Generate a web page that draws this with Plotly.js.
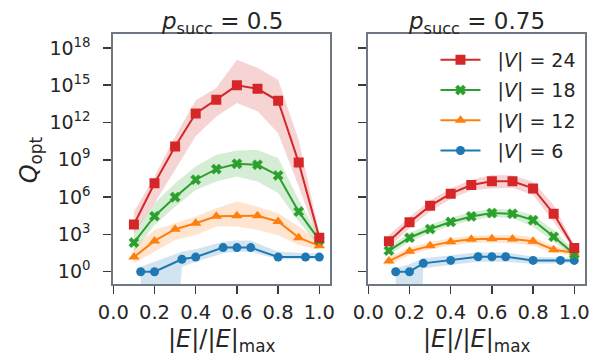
<!DOCTYPE html>
<html>
<head>
<meta charset="utf-8">
<script src="https://cdn.plot.ly/plotly-3.0.1.min.js"></script>
<style>
  html, body { margin: 0; padding: 0; background: #fff; }
  #chart { width: 604px; height: 363px; }
</style>
</head>
<body>
<div id="chart"></div>
<script>
// ---------- data ----------
const panelTitles = ["<i>p</i><sub>succ</sub> = 0.5", "<i>p</i><sub>succ</sub> = 0.75"];
const seriesNames = ["|<i>V</i>| = 6", "|<i>V</i>| = 12", "|<i>V</i>| = 18", "|<i>V</i>| = 24"];
const seriesColors = ["#1f77b4", "#ff7f0e", "#2ca02c", "#d62728"];
const bandColors = ["rgba(31,119,180,0.2)", "rgba(255,127,14,0.2)", "rgba(44,160,44,0.2)", "rgba(214,39,40,0.2)"];
const seriesSymbols = ["circle", "triangle-up", "x", "square"];

const xTickVals = [0, 0.2, 0.4, 0.6, 0.8, 1.0];
const yTickVals = [1, 1e3, 1e6, 1e9, 1e12, 1e15, 1e18];
const yTickText = ["10<sup>0</sup>", "10<sup>3</sup>", "10<sup>6</sup>", "10<sup>9</sup>", "10<sup>12</sup>", "10<sup>15</sup>", "10<sup>18</sup>"];

// x positions (|E|/|E|max)
const xBig = [0.1, 0.2, 0.3, 0.4, 0.5, 0.6, 0.7, 0.8, 0.9, 1.0];
const xV6a = [0.133, 0.2, 0.333, 0.4, 0.533, 0.6, 0.667, 0.8, 0.933, 1.0];
const xV6b = [0.133, 0.2, 0.267, 0.4, 0.533, 0.6, 0.667, 0.8, 0.933, 1.0];

// p_succ = 0.5
const a6mean  = [1, 1, 10, 15, 87, 87, 87, 15, 15, 15];
const a6upper = [2.5, 6.3, 40, 63, 260, 320, 320, 40, 30, 30];
const a6lower = [1e-30, 1e-30, 2.5, 6.3, 30, 40, 40, 10, 10, 10];

const a12mean  = [15, 300, 2.6e3, 7.9e3, 2.9e4, 3.2e4, 3.2e4, 1.1e4, 550, 120];
const a12upper = [100, 2.3e3, 7.9e3, 2.7e4, 1.3e5, 4.4e5, 1.7e5, 5.0e4, 4.3e3, 260];
const a12lower = [4.7, 40, 350, 910, 4.3e3, 4.3e3, 2.3e3, 910, 140, 56];

const a18mean  = [220, 2.9e4, 1.0e6, 2.5e7, 1.8e8, 4.8e8, 4.0e8, 5.5e7, 6.8e4, 350];
const a18upper = [1.7e3, 3.2e5, 1.3e7, 2.9e8, 2.5e9, 5.6e9, 6.3e9, 1.4e9, 6.0e5, 660];
const a18lower = [40, 5.8e3, 1.7e5, 3.8e6, 1.8e7, 4.5e7, 1.8e7, 2.1e6, 1.1e4, 100];

const a24mean  = [6.2e3, 1.3e7, 1.2e10, 5.4e12, 6.9e13, 9.8e14, 5.2e14, 5.6e13, 6.0e8, 550];
const a24upper = [6.8e4, 4.5e7, 7.6e10, 6.3e13, 6.0e14, 1.1e17, 2.5e16, 2.8e15, 4.0e10, 1.3e3];
const a24lower = [1.3e3, 3.2e5, 1.6e8, 7.9e10, 3.1e12, 3.7e13, 7.9e12, 1.4e11, 7.1e6, 200];

// p_succ = 0.75
const b6mean  = [1, 1, 4.7, 8.1, 16, 16, 16, 8.1, 8.1, 8.1];
const b6upper = [1.9, 4.0, 12, 19.5, 36, 36, 36, 16, 12.6, 12.6];
const b6lower = [1e-30, 1e-30, 1.9, 3.5, 6.3, 6.3, 6.3, 4.4, 5, 5];

const b12mean  = [7.2, 44, 120, 260, 400, 450, 430, 280, 59, 34];
const b12upper = [14, 89, 250, 500, 790, 890, 890, 630, 110, 50];
const b12lower = [3.5, 22, 63, 130, 200, 220, 200, 130, 32, 22];

const b18mean  = [49, 540, 2.7e3, 1.0e4, 2.8e4, 5.2e4, 4.6e4, 1.4e4, 650, 26];
const b18upper = [110, 1.3e3, 6.3e3, 2.2e4, 6.3e4, 1.1e5, 1.0e5, 3.6e4, 2.2e3, 50];
const b18lower = [22, 250, 1.3e3, 5.0e3, 1.3e4, 2.5e4, 2.0e4, 4.2e3, 260, 16];

const b24mean  = [280, 9.3e3, 2.0e5, 1.9e6, 9.3e6, 1.9e7, 1.9e7, 5.0e6, 4.6e4, 79];
const b24upper = [890, 2.5e4, 5.6e5, 5.0e6, 2.5e7, 5.9e7, 5.6e7, 1.7e7, 2.3e5, 140];
const b24lower = [91, 3.2e3, 7.1e4, 7.1e5, 3.5e6, 5.0e6, 5.6e6, 1.5e6, 1.0e4, 55];

const panels = [
  { xa: "x",  ya: "y",  xs: [xV6a, xBig, xBig, xBig],
    mean: [a6mean, a12mean, a18mean, a24mean],
    upper: [a6upper, a12upper, a18upper, a24upper],
    lower: [a6lower, a12lower, a18lower, a24lower] },
  { xa: "x2", ya: "y2", xs: [xV6b, xBig, xBig, xBig],
    mean: [b6mean, b12mean, b18mean, b24mean],
    upper: [b6upper, b12upper, b18upper, b24upper],
    lower: [b6lower, b12lower, b18lower, b24lower] }
];

// ---------- traces ----------
const traces = [];
panels.forEach((p) => {
  for (let s = 0; s < 4; s++) {
    traces.push({ x: p.xs[s], y: p.lower[s], xaxis: p.xa, yaxis: p.ya, mode: "lines",
      line: { width: 0, color: bandColors[s] }, showlegend: false, hoverinfo: "skip" });
    traces.push({ x: p.xs[s], y: p.upper[s], xaxis: p.xa, yaxis: p.ya, mode: "lines",
      line: { width: 0, color: bandColors[s] }, fill: "tonexty", fillcolor: bandColors[s],
      showlegend: false, hoverinfo: "skip" });
  }
});
panels.forEach((p, pi) => {
  for (let s = 0; s < 4; s++) {
    const sym = seriesSymbols[s];
    traces.push({ x: p.xs[s], y: p.mean[s], xaxis: p.xa, yaxis: p.ya, mode: "lines+markers",
      name: "&nbsp;&nbsp;" + seriesNames[s], legendgroup: "g" + s, legendrank: 4 - s,
      showlegend: pi === 0,
      line: { color: seriesColors[s], width: 2 },
      marker: { color: seriesColors[s], symbol: sym,
        size: sym === "square" ? 10 : (sym === "triangle-up" ? 10 : 9),
        line: { width: sym === "x" ? 0.5 : 0, color: seriesColors[s] } } });
  }
});

// ---------- layout ----------
const textColor = "#262626";
const frameColor = "#6f7782";
const tickColor = "#3a3a3a";
const fontFam = "DejaVu Sans, sans-serif";

function xAxis(domain, anchor) {
  return { domain: domain, anchor: anchor, range: [0, 1.052], tickmode: "array",
    tickvals: xTickVals, tickformat: ".1f", ticks: "outside", ticklen: 8, tickwidth: 1.5,
    tickcolor: tickColor, showline: true, linecolor: frameColor, linewidth: 2, mirror: true,
    showgrid: false, zeroline: false, tickfont: { size: 19.5, color: textColor, family: fontFam },
    ticklabelstandoff: 2 };
}
function yAxis(anchor, showLabels) {
  return { domain: [0.2176, 0.9063], anchor: anchor, type: "log", range: [-0.99, 19.12],
    tickmode: "array", tickvals: yTickVals, ticktext: yTickText, showticklabels: showLabels,
    ticks: "outside", ticklen: 8, tickwidth: 1.5, tickcolor: tickColor, showline: true,
    linecolor: frameColor, linewidth: 2, mirror: true, showgrid: false, zeroline: false,
    tickfont: { size: 19, color: textColor, family: fontFam }, ticklabelstandoff: 9 };
}

const layout = {
  width: 604, height: 363,
  margin: { l: 0, r: 0, t: 0, b: 0 },
  paper_bgcolor: "#ffffff", plot_bgcolor: "#ffffff",
  font: { family: fontFam, color: textColor, size: 19 },
  xaxis: xAxis([0.1876, 0.5464], "y"),
  yaxis: yAxis("x", true),
  xaxis2: xAxis([0.6098, 0.9685], "y2"),
  yaxis2: yAxis("x2", false),
  showlegend: true,
  legend: { x: 0.721, y: 0.887, xanchor: "left", yanchor: "top", bgcolor: "rgba(0,0,0,0)",
    borderwidth: 0, traceorder: "grouped", tracegroupgap: 2.5, itemwidth: 40,
    font: { size: 19, color: textColor, family: fontFam } },
  annotations: [
    { text: panelTitles[0], xref: "paper", yref: "paper", x: 0.367, y: 0.938, xanchor: "center",
      yanchor: "middle", showarrow: false, font: { size: 23, color: textColor } },
    { text: panelTitles[1], xref: "paper", yref: "paper", x: 0.789, y: 0.938, xanchor: "center",
      yanchor: "middle", showarrow: false, font: { size: 23, color: textColor } },
    { text: "|<i>E</i>|/|<i>E</i>|<sub>max</sub>", xref: "paper", yref: "paper", x: 0.367, y: 0.063,
      xanchor: "center", yanchor: "middle", showarrow: false, font: { size: 24, color: textColor } },
    { text: "|<i>E</i>|/|<i>E</i>|<sub>max</sub>", xref: "paper", yref: "paper", x: 0.789, y: 0.063,
      xanchor: "center", yanchor: "middle", showarrow: false, font: { size: 24, color: textColor } },
    { text: "<i>Q</i><sub>opt</sub>", xref: "paper", yref: "paper", x: 0.05, y: 0.559,
      xanchor: "center", yanchor: "middle", textangle: -90, showarrow: false,
      font: { size: 24, color: textColor } }
  ]
};

Plotly.newPlot("chart", traces, layout, { staticPlot: true, displayModeBar: false });
</script>
</body>
</html>
